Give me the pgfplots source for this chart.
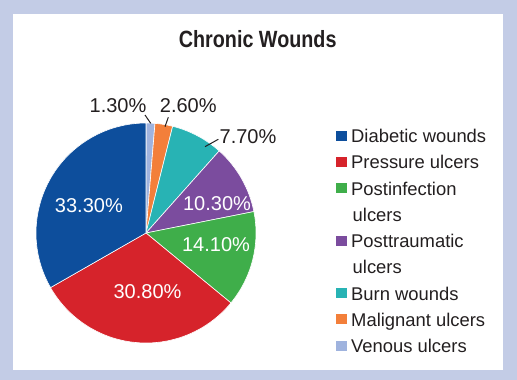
\documentclass[border=0pt]{standalone}
\usepackage{fontspec}
\setmainfont{Liberation Sans}
\newfontfamily\titlefont{Liberation Sans}[FakeStretch=0.84]
\usepackage{pgfplots}
\usepackage{pgfplotstable}
\pgfplotsset{compat=1.18}
\definecolor{bgc}{HTML}{C3CCE6}
\definecolor{cDia}{HTML}{0D4E9C}
\definecolor{cPres}{HTML}{D6232B}
\definecolor{cInf}{HTML}{3FAE4A}
\definecolor{cPost}{HTML}{7B4C9E}
\definecolor{cBurn}{HTML}{28B3B4}
\definecolor{cMal}{HTML}{F37F3A}
\definecolor{cVen}{HTML}{9FB3DE}
\definecolor{txt}{HTML}{231F20}

\pgfplotstableread{
label value col
Venous 1.3 cVen
Malignant 2.6 cMal
Burn 7.7 cBurn
Posttraumatic 10.3 cPost
Postinfection 14.1 cInf
Pressure 30.8 cPres
Diabetic 33.3 cDia
}\wounds

\begin{document}
\begin{tikzpicture}
\fill[bgc] (0,0) rectangle (517bp,380bp);
\begin{axis}[at={(0,0)}, anchor=south west, scale only axis,
  width=517bp, height=380bp, xmin=0, xmax=517, ymin=0, ymax=380,
  hide axis, clip=false]
\fill[white] (axis cs:13,10) rectangle (axis cs:503,366);
\pgfmathsetmacro\cum{0}
\pgfplotsforeachungrouped \i in {0,...,6}{%
  \pgfplotstablegetelem{\i}{value}\of\wounds \let\slval\pgfplotsretval
  \pgfplotstablegetelem{\i}{col}\of\wounds \let\slcol\pgfplotsretval
  \pgfmathsetmacro\sa{90-\cum*3.6/1.001}
  \pgfmathsetmacro\cum{\cum+\slval}
  \pgfmathsetmacro\ea{90-\cum*3.6/1.001}
  \edef\tmp{\noexpand\fill[\slcol, draw=white, line width=0.6bp] (axis cs:146,147) -- (axis cs:{146+110*cos(\sa)},{147+110*sin(\sa)}) arc[start angle=\sa, end angle=\ea, radius=110bp] -- cycle;}%
  \tmp
}
% leader lines
\draw[txt, line width=1bp] (axis cs:145,265) -- (axis cs:150.7,256.7);
\draw[txt, line width=1bp] (axis cs:165,253.3) -- (axis cs:168.3,262.7);
\draw[txt, line width=1bp] (axis cs:205,233.3) -- (axis cs:218.3,240.7);
% slice labels
\begin{scope}[every node/.style={inner sep=0pt, font=\fontsize{20bp}{24bp}\selectfont}]
\node[white] at (axis cs:88.9,174.5) {33.30\%};
\node[white] at (axis cs:147.5,88) {30.80\%};
\node[white] at (axis cs:216,135.3) {14.10\%};
\node[white] at (axis cs:217,176) {10.30\%};
\node[txt] at (axis cs:248,243) {7.70\%};
\node[txt] at (axis cs:188.3,274.5) {2.60\%};
\node[txt] at (axis cs:118,274.5) {1.30\%};
\end{scope}
% title
\node[txt, anchor=base, inner sep=0pt, font=\titlefont\bfseries\fontsize{23.5bp}{28bp}\selectfont] at (axis cs:257.7,332.3) {Chronic Wounds};
% legend
\begin{scope}[every node/.style={txt, anchor=base west, inner sep=0pt, font=\fontsize{18.4bp}{22bp}\selectfont}]
\fill[cDia]  (axis cs:336,239.3) rectangle (axis cs:346.5,249.3);
\node at (axis cs:351,237.3) {Diabetic wounds};
\fill[cPres] (axis cs:336,213.05) rectangle (axis cs:346.5,223.05);
\node at (axis cs:351,211.05) {Pressure ulcers};
\fill[cInf]  (axis cs:336,186.8) rectangle (axis cs:346.5,196.8);
\node at (axis cs:351,184.8) {Postinfection};
\node at (axis cs:352.5,158.55) {ulcers};
\fill[cPost] (axis cs:336,134.3) rectangle (axis cs:346.5,144.3);
\node at (axis cs:351,132.3) {Posttraumatic};
\node at (axis cs:352.5,106.05) {ulcers};
\fill[cBurn] (axis cs:336,81.8) rectangle (axis cs:346.5,91.8);
\node at (axis cs:351,79.8) {Burn wounds};
\fill[cMal]  (axis cs:336,55.55) rectangle (axis cs:346.5,65.55);
\node at (axis cs:351,53.55) {Malignant ulcers};
\fill[cVen]  (axis cs:336,29.3) rectangle (axis cs:346.5,39.3);
\node at (axis cs:351,27.3) {Venous ulcers};
\end{scope}
\end{axis}
\end{tikzpicture}
\end{document}
